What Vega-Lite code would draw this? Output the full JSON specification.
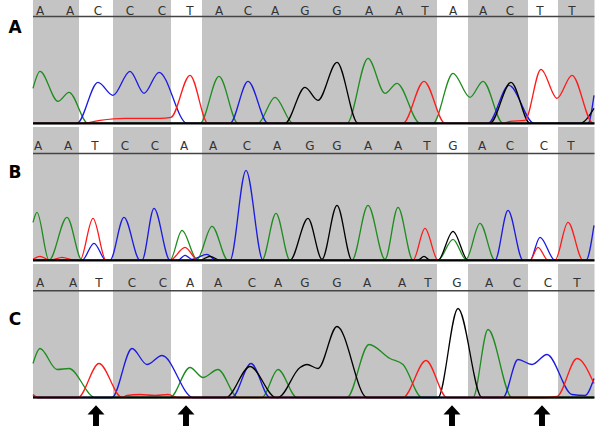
{
"$schema":"https://vega.github.io/schema/vega-lite/v6.json",
"padding":0,"spacing":0,"background":"white",
"config":{"view":{"stroke":null},"concat":{"spacing":0}},
"datasets":{
"bands":[{"start":33,"end":79},{"start":113,"end":171},{"start":202,"end":437},{"start":468,"end":528},{"start":558,"end":594.5}],
"letters":[
{"panel":"A","scan":40,"base":"A"},{"panel":"A","scan":70,"base":"A"},{"panel":"A","scan":98,"base":"C"},{"panel":"A","scan":130,"base":"C"},{"panel":"A","scan":162,"base":"C"},{"panel":"A","scan":190,"base":"T"},{"panel":"A","scan":219,"base":"A"},{"panel":"A","scan":248,"base":"C"},{"panel":"A","scan":275,"base":"A"},{"panel":"A","scan":305,"base":"G"},{"panel":"A","scan":337,"base":"G"},{"panel":"A","scan":369,"base":"A"},{"panel":"A","scan":399,"base":"A"},{"panel":"A","scan":425,"base":"T"},{"panel":"A","scan":453,"base":"A"},{"panel":"A","scan":483,"base":"A"},{"panel":"A","scan":510,"base":"C"},{"panel":"A","scan":540,"base":"T"},{"panel":"A","scan":572,"base":"T"},
{"panel":"B","scan":38,"base":"A"},{"panel":"B","scan":68,"base":"A"},{"panel":"B","scan":95,"base":"T"},{"panel":"B","scan":125,"base":"C"},{"panel":"B","scan":155,"base":"C"},{"panel":"B","scan":184,"base":"A"},{"panel":"B","scan":213,"base":"A"},{"panel":"B","scan":247,"base":"C"},{"panel":"B","scan":277,"base":"A"},{"panel":"B","scan":310,"base":"G"},{"panel":"B","scan":337,"base":"G"},{"panel":"B","scan":368,"base":"A"},{"panel":"B","scan":398,"base":"A"},{"panel":"B","scan":427,"base":"T"},{"panel":"B","scan":453,"base":"G"},{"panel":"B","scan":482,"base":"A"},{"panel":"B","scan":510,"base":"C"},{"panel":"B","scan":544,"base":"C"},{"panel":"B","scan":571,"base":"T"},
{"panel":"C","scan":40,"base":"A"},{"panel":"C","scan":73,"base":"A"},{"panel":"C","scan":99,"base":"T"},{"panel":"C","scan":132,"base":"C"},{"panel":"C","scan":163,"base":"C"},{"panel":"C","scan":190,"base":"A"},{"panel":"C","scan":218,"base":"A"},{"panel":"C","scan":252,"base":"C"},{"panel":"C","scan":278,"base":"A"},{"panel":"C","scan":305,"base":"G"},{"panel":"C","scan":337,"base":"G"},{"panel":"C","scan":367,"base":"A"},{"panel":"C","scan":402,"base":"A"},{"panel":"C","scan":428,"base":"T"},{"panel":"C","scan":457,"base":"G"},{"panel":"C","scan":489,"base":"A"},{"panel":"C","scan":517,"base":"C"},{"panel":"C","scan":548,"base":"C"},{"panel":"C","scan":577,"base":"T"}
],
"arrows":[{"scan":96},{"scan":186},{"scan":452},{"scan":542}],
"traces":[
{"panel":"A","dye":"A","scan":33,"signal":35},{"panel":"A","dye":"A","scan":40,"signal":52},{"panel":"A","dye":"A","scan":58,"signal":22},{"panel":"A","dye":"A","scan":69,"signal":31},{"panel":"A","dye":"A","scan":88,"signal":0},{"panel":"A","dye":"A","scan":200,"signal":0},{"panel":"A","dye":"A","scan":219,"signal":47},{"panel":"A","dye":"A","scan":238,"signal":0},{"panel":"A","dye":"A","scan":258,"signal":0},{"panel":"A","dye":"A","scan":275,"signal":26},{"panel":"A","dye":"A","scan":293,"signal":0},{"panel":"A","dye":"A","scan":347,"signal":0},{"panel":"A","dye":"A","scan":368,"signal":65},{"panel":"A","dye":"A","scan":385,"signal":30},{"panel":"A","dye":"A","scan":397,"signal":40},{"panel":"A","dye":"A","scan":420,"signal":0},{"panel":"A","dye":"A","scan":433,"signal":0},{"panel":"A","dye":"A","scan":453,"signal":50},{"panel":"A","dye":"A","scan":470,"signal":26},{"panel":"A","dye":"A","scan":483,"signal":42},{"panel":"A","dye":"A","scan":503,"signal":0},{"panel":"A","dye":"A","scan":594,"signal":0},
{"panel":"A","dye":"C","scan":33,"signal":0},{"panel":"A","dye":"C","scan":77,"signal":0},{"panel":"A","dye":"C","scan":98,"signal":41},{"panel":"A","dye":"C","scan":113,"signal":28},{"panel":"A","dye":"C","scan":130,"signal":52},{"panel":"A","dye":"C","scan":144,"signal":30},{"panel":"A","dye":"C","scan":159,"signal":51},{"panel":"A","dye":"C","scan":187,"signal":0},{"panel":"A","dye":"C","scan":230,"signal":0},{"panel":"A","dye":"C","scan":248,"signal":42},{"panel":"A","dye":"C","scan":268,"signal":0},{"panel":"A","dye":"C","scan":488,"signal":0},{"panel":"A","dye":"C","scan":509,"signal":38},{"panel":"A","dye":"C","scan":534,"signal":0},{"panel":"A","dye":"C","scan":588,"signal":0},{"panel":"A","dye":"C","scan":594,"signal":28},
{"panel":"A","dye":"G","scan":33,"signal":0},{"panel":"A","dye":"G","scan":285,"signal":0},{"panel":"A","dye":"G","scan":305,"signal":36},{"panel":"A","dye":"G","scan":318,"signal":23},{"panel":"A","dye":"G","scan":337,"signal":61},{"panel":"A","dye":"G","scan":358,"signal":0},{"panel":"A","dye":"G","scan":490,"signal":0},{"panel":"A","dye":"G","scan":511,"signal":41},{"panel":"A","dye":"G","scan":530,"signal":0},{"panel":"A","dye":"G","scan":580,"signal":0},{"panel":"A","dye":"G","scan":594,"signal":15},
{"panel":"A","dye":"T","scan":33,"signal":0},{"panel":"A","dye":"T","scan":83,"signal":0},{"panel":"A","dye":"T","scan":100,"signal":3},{"panel":"A","dye":"T","scan":125,"signal":5},{"panel":"A","dye":"T","scan":160,"signal":5},{"panel":"A","dye":"T","scan":171,"signal":6},{"panel":"A","dye":"T","scan":190,"signal":48},{"panel":"A","dye":"T","scan":208,"signal":0},{"panel":"A","dye":"T","scan":403,"signal":0},{"panel":"A","dye":"T","scan":424,"signal":42},{"panel":"A","dye":"T","scan":445,"signal":0},{"panel":"A","dye":"T","scan":503,"signal":0},{"panel":"A","dye":"T","scan":510,"signal":2},{"panel":"A","dye":"T","scan":525,"signal":3},{"panel":"A","dye":"T","scan":541,"signal":54},{"panel":"A","dye":"T","scan":557,"signal":25},{"panel":"A","dye":"T","scan":572,"signal":48},{"panel":"A","dye":"T","scan":593,"signal":0},{"panel":"A","dye":"T","scan":594,"signal":0},
{"panel":"B","dye":"A","scan":33,"signal":38},{"panel":"B","dye":"A","scan":37,"signal":48},{"panel":"B","dye":"A","scan":49,"signal":0},{"panel":"B","dye":"A","scan":67,"signal":43},{"panel":"B","dye":"A","scan":82,"signal":0},{"panel":"B","dye":"A","scan":170,"signal":0},{"panel":"B","dye":"A","scan":182,"signal":30},{"panel":"B","dye":"A","scan":197,"signal":1},{"panel":"B","dye":"A","scan":212,"signal":34},{"panel":"B","dye":"A","scan":228,"signal":0},{"panel":"B","dye":"A","scan":262,"signal":0},{"panel":"B","dye":"A","scan":276,"signal":47},{"panel":"B","dye":"A","scan":290,"signal":0},{"panel":"B","dye":"A","scan":352,"signal":0},{"panel":"B","dye":"A","scan":368,"signal":55},{"panel":"B","dye":"A","scan":385,"signal":1},{"panel":"B","dye":"A","scan":398,"signal":53},{"panel":"B","dye":"A","scan":413,"signal":0},{"panel":"B","dye":"A","scan":438,"signal":0},{"panel":"B","dye":"A","scan":453,"signal":21},{"panel":"B","dye":"A","scan":466,"signal":1},{"panel":"B","dye":"A","scan":480,"signal":37},{"panel":"B","dye":"A","scan":495,"signal":0},{"panel":"B","dye":"A","scan":594,"signal":0},
{"panel":"B","dye":"C","scan":33,"signal":0},{"panel":"B","dye":"C","scan":82,"signal":0},{"panel":"B","dye":"C","scan":94,"signal":17},{"panel":"B","dye":"C","scan":106,"signal":0},{"panel":"B","dye":"C","scan":110,"signal":0},{"panel":"B","dye":"C","scan":124,"signal":43},{"panel":"B","dye":"C","scan":140,"signal":0},{"panel":"B","dye":"C","scan":142,"signal":0},{"panel":"B","dye":"C","scan":154,"signal":52},{"panel":"B","dye":"C","scan":170,"signal":0},{"panel":"B","dye":"C","scan":178,"signal":0},{"panel":"B","dye":"C","scan":185,"signal":5},{"panel":"B","dye":"C","scan":192,"signal":1},{"panel":"B","dye":"C","scan":207,"signal":6},{"panel":"B","dye":"C","scan":216,"signal":0},{"panel":"B","dye":"C","scan":230,"signal":0},{"panel":"B","dye":"C","scan":246,"signal":90},{"panel":"B","dye":"C","scan":263,"signal":0},{"panel":"B","dye":"C","scan":495,"signal":0},{"panel":"B","dye":"C","scan":508,"signal":50},{"panel":"B","dye":"C","scan":523,"signal":0},{"panel":"B","dye":"C","scan":530,"signal":0},{"panel":"B","dye":"C","scan":540,"signal":23},{"panel":"B","dye":"C","scan":555,"signal":0},{"panel":"B","dye":"C","scan":586,"signal":0},{"panel":"B","dye":"C","scan":594,"signal":35},
{"panel":"B","dye":"G","scan":33,"signal":0},{"panel":"B","dye":"G","scan":200,"signal":0},{"panel":"B","dye":"G","scan":210,"signal":4},{"panel":"B","dye":"G","scan":220,"signal":0},{"panel":"B","dye":"G","scan":290,"signal":0},{"panel":"B","dye":"G","scan":308,"signal":42},{"panel":"B","dye":"G","scan":322,"signal":1},{"panel":"B","dye":"G","scan":337,"signal":55},{"panel":"B","dye":"G","scan":352,"signal":0},{"panel":"B","dye":"G","scan":418,"signal":0},{"panel":"B","dye":"G","scan":424,"signal":4},{"panel":"B","dye":"G","scan":430,"signal":0},{"panel":"B","dye":"G","scan":438,"signal":0},{"panel":"B","dye":"G","scan":453,"signal":29},{"panel":"B","dye":"G","scan":468,"signal":0},{"panel":"B","dye":"G","scan":594,"signal":0},
{"panel":"B","dye":"T","scan":33,"signal":1},{"panel":"B","dye":"T","scan":40,"signal":4},{"panel":"B","dye":"T","scan":50,"signal":0},{"panel":"B","dye":"T","scan":62,"signal":3},{"panel":"B","dye":"T","scan":75,"signal":0},{"panel":"B","dye":"T","scan":80,"signal":0},{"panel":"B","dye":"T","scan":93,"signal":42},{"panel":"B","dye":"T","scan":106,"signal":0},{"panel":"B","dye":"T","scan":170,"signal":0},{"panel":"B","dye":"T","scan":185,"signal":13},{"panel":"B","dye":"T","scan":198,"signal":0},{"panel":"B","dye":"T","scan":413,"signal":0},{"panel":"B","dye":"T","scan":425,"signal":32},{"panel":"B","dye":"T","scan":438,"signal":0},{"panel":"B","dye":"T","scan":530,"signal":0},{"panel":"B","dye":"T","scan":538,"signal":13},{"panel":"B","dye":"T","scan":548,"signal":0},{"panel":"B","dye":"T","scan":555,"signal":0},{"panel":"B","dye":"T","scan":568,"signal":38},{"panel":"B","dye":"T","scan":583,"signal":0},{"panel":"B","dye":"T","scan":594,"signal":0},
{"panel":"C","dye":"A","scan":33,"signal":34},{"panel":"C","dye":"A","scan":40,"signal":49},{"panel":"C","dye":"A","scan":57,"signal":28},{"panel":"C","dye":"A","scan":69,"signal":29},{"panel":"C","dye":"A","scan":95,"signal":0},{"panel":"C","dye":"A","scan":170,"signal":0},{"panel":"C","dye":"A","scan":190,"signal":30},{"panel":"C","dye":"A","scan":203,"signal":20},{"panel":"C","dye":"A","scan":218,"signal":28},{"panel":"C","dye":"A","scan":238,"signal":0},{"panel":"C","dye":"A","scan":262,"signal":0},{"panel":"C","dye":"A","scan":278,"signal":28},{"panel":"C","dye":"A","scan":297,"signal":0},{"panel":"C","dye":"A","scan":347,"signal":0},{"panel":"C","dye":"A","scan":369,"signal":53},{"panel":"C","dye":"A","scan":390,"signal":39},{"panel":"C","dye":"A","scan":403,"signal":33},{"panel":"C","dye":"A","scan":422,"signal":0},{"panel":"C","dye":"A","scan":473,"signal":0},{"panel":"C","dye":"A","scan":488,"signal":68},{"panel":"C","dye":"A","scan":512,"signal":0},{"panel":"C","dye":"A","scan":594,"signal":0},
{"panel":"C","dye":"C","scan":33,"signal":2},{"panel":"C","dye":"C","scan":37,"signal":0},{"panel":"C","dye":"C","scan":112,"signal":0},{"panel":"C","dye":"C","scan":132,"signal":49},{"panel":"C","dye":"C","scan":147,"signal":33},{"panel":"C","dye":"C","scan":162,"signal":42},{"panel":"C","dye":"C","scan":193,"signal":0},{"panel":"C","dye":"C","scan":232,"signal":0},{"panel":"C","dye":"C","scan":251,"signal":34},{"panel":"C","dye":"C","scan":270,"signal":0},{"panel":"C","dye":"C","scan":503,"signal":0},{"panel":"C","dye":"C","scan":518,"signal":38},{"panel":"C","dye":"C","scan":532,"signal":33},{"panel":"C","dye":"C","scan":547,"signal":43},{"panel":"C","dye":"C","scan":572,"signal":3},{"panel":"C","dye":"C","scan":585,"signal":2},{"panel":"C","dye":"C","scan":594,"signal":19},
{"panel":"C","dye":"G","scan":33,"signal":0},{"panel":"C","dye":"G","scan":226,"signal":0},{"panel":"C","dye":"G","scan":250,"signal":31},{"panel":"C","dye":"G","scan":276,"signal":0},{"panel":"C","dye":"G","scan":278,"signal":0},{"panel":"C","dye":"G","scan":300,"signal":30},{"panel":"C","dye":"G","scan":307,"signal":33},{"panel":"C","dye":"G","scan":318,"signal":29},{"panel":"C","dye":"G","scan":337,"signal":71},{"panel":"C","dye":"G","scan":367,"signal":0},{"panel":"C","dye":"G","scan":438,"signal":0},{"panel":"C","dye":"G","scan":458,"signal":89},{"panel":"C","dye":"G","scan":482,"signal":0},{"panel":"C","dye":"G","scan":594,"signal":0},
{"panel":"C","dye":"T","scan":33,"signal":3},{"panel":"C","dye":"T","scan":38,"signal":0},{"panel":"C","dye":"T","scan":78,"signal":0},{"panel":"C","dye":"T","scan":99,"signal":34},{"panel":"C","dye":"T","scan":122,"signal":0},{"panel":"C","dye":"T","scan":127,"signal":2},{"panel":"C","dye":"T","scan":140,"signal":3},{"panel":"C","dye":"T","scan":155,"signal":2},{"panel":"C","dye":"T","scan":168,"signal":3},{"panel":"C","dye":"T","scan":178,"signal":0},{"panel":"C","dye":"T","scan":403,"signal":0},{"panel":"C","dye":"T","scan":426,"signal":37},{"panel":"C","dye":"T","scan":447,"signal":0},{"panel":"C","dye":"T","scan":545,"signal":0},{"panel":"C","dye":"T","scan":557,"signal":1},{"panel":"C","dye":"T","scan":577,"signal":39},{"panel":"C","dye":"T","scan":594,"signal":14}
]
},
"vconcat":[
{"width":600,"height":125,
"layer":[
{"data":{"name":"bands"},"mark":{"type":"rect","color":"#c4c4c4"},
"encoding":{"x":{"field":"start","type":"quantitative","scale":{"domain":[0,600],"nice":false,"zero":false},"axis":null},"x2":{"field":"end"},
"y":{"datum":123.3,"type":"quantitative","scale":{"domain":[-1.7,123.3],"nice":false,"zero":false},"axis":null},"y2":{"datum":-1.2}}},
{"data":{"name":"letters"},"transform":[{"filter":"datum.panel==='A'"}],"mark":{"type":"text","font":"DejaVu Sans","fontSize":12,"color":"#333333","baseline":"alphabetic","align":"center"},
"encoding":{"x":{"field":"scan","type":"quantitative"},"y":{"datum":108.3},"text":{"field":"base"}}},
{"data":{"values":[{}]},"mark":{"type":"rule","color":"#444444","strokeWidth":1.5},"encoding":{"x":{"datum":33},"x2":{"datum":594.5},"y":{"datum":106.8}}},
{"data":{"name":"traces"},"transform":[{"filter":"datum.panel==='A'"}],"mark":{"type":"line","interpolate":"monotone","strokeWidth":1.3},
"encoding":{"x":{"field":"scan","type":"quantitative"},"y":{"field":"signal","type":"quantitative"},"color":{"field":"dye","type":"nominal","scale":{"domain":["A","C","G","T"],"range":["#1e8c1e","#1a1ae0","#000000","#ff1a1a"]},"legend":null}}},
{"data":{"values":[{}]},"mark":{"type":"rule","color":"#000000","strokeWidth":2.2},"encoding":{"x":{"datum":33},"x2":{"datum":594.5},"y":{"datum":0}}},
{"data":{"values":[{"label":"A"}]},"mark":{"type":"text","font":"DejaVu Sans","fontWeight":"bold","fontSize":17,"align":"center","baseline":"alphabetic","color":"#000000"},"encoding":{"x":{"datum":15},"y":{"datum":90.3},"text":{"field":"label"}}}
]},
{"width":600,"height":135,
"layer":[
{"data":{"name":"bands"},"mark":{"type":"rect","color":"#c4c4c4"},
"encoding":{"x":{"field":"start","type":"quantitative","scale":{"domain":[0,600],"nice":false,"zero":false},"axis":null},"x2":{"field":"end"},
"y":{"datum":133.3,"type":"quantitative","scale":{"domain":[-0.7,134.3],"nice":false,"zero":false},"axis":null},"y2":{"datum":-0.7}}},
{"data":{"name":"letters"},"transform":[{"filter":"datum.panel==='B'"}],"mark":{"type":"text","font":"DejaVu Sans","fontSize":12,"color":"#333333","baseline":"alphabetic","align":"center"},
"encoding":{"x":{"field":"scan","type":"quantitative"},"y":{"datum":110.3},"text":{"field":"base"}}},
{"data":{"values":[{}]},"mark":{"type":"rule","color":"#444444","strokeWidth":1.5},"encoding":{"x":{"datum":33},"x2":{"datum":594.5},"y":{"datum":106.8}}},
{"data":{"name":"traces"},"transform":[{"filter":"datum.panel==='B'"}],"mark":{"type":"line","interpolate":"monotone","strokeWidth":1.3},
"encoding":{"x":{"field":"scan","type":"quantitative"},"y":{"field":"signal","type":"quantitative"},"color":{"field":"dye","type":"nominal","scale":{"domain":["A","C","G","T"],"range":["#1e8c1e","#1a1ae0","#000000","#ff1a1a"]},"legend":null}}},
{"data":{"values":[{}]},"mark":{"type":"rule","color":"#000000","strokeWidth":2.2},"encoding":{"x":{"datum":33},"x2":{"datum":594.5},"y":{"datum":0}}},
{"data":{"values":[{"label":"B"}]},"mark":{"type":"text","font":"DejaVu Sans","fontWeight":"bold","fontSize":17,"align":"center","baseline":"alphabetic","color":"#000000"},"encoding":{"x":{"datum":15},"y":{"datum":82.3},"text":{"field":"label"}}}
]},
{"width":600,"height":168,
"layer":[
{"data":{"name":"bands"},"mark":{"type":"rect","color":"#c4c4c4"},
"encoding":{"x":{"field":"start","type":"quantitative","scale":{"domain":[0,600],"nice":false,"zero":false},"axis":null},"x2":{"field":"end"},
"y":{"datum":133.5,"type":"quantitative","scale":{"domain":[-33.5,134.5],"nice":false,"zero":false},"axis":null},"y2":{"datum":-0.5}}},
{"data":{"name":"letters"},"transform":[{"filter":"datum.panel==='C'"}],"mark":{"type":"text","font":"DejaVu Sans","fontSize":12,"color":"#333333","baseline":"alphabetic","align":"center"},
"encoding":{"x":{"field":"scan","type":"quantitative"},"y":{"datum":110.5},"text":{"field":"base"}}},
{"data":{"values":[{}]},"mark":{"type":"rule","color":"#444444","strokeWidth":1.5},"encoding":{"x":{"datum":33},"x2":{"datum":594.5},"y":{"datum":106.8}}},
{"data":{"name":"traces"},"transform":[{"filter":"datum.panel==='C'"}],"mark":{"type":"line","interpolate":"monotone","strokeWidth":1.3},
"encoding":{"x":{"field":"scan","type":"quantitative"},"y":{"field":"signal","type":"quantitative"},"color":{"field":"dye","type":"nominal","scale":{"domain":["A","C","G","T"],"range":["#1e8c1e","#1a1ae0","#000000","#ff1a1a"]},"legend":null}}},
{"data":{"values":[{}]},"mark":{"type":"rule","color":"#000000","strokeWidth":2.2},"encoding":{"x":{"datum":33},"x2":{"datum":594.5},"y":{"datum":0}}},
{"data":{"values":[{"label":"C"}]},"mark":{"type":"text","font":"DejaVu Sans","fontWeight":"bold","fontSize":17,"align":"center","baseline":"alphabetic","color":"#000000"},"encoding":{"x":{"datum":15},"y":{"datum":72.5},"text":{"field":"label"}}},
{"data":{"name":"arrows"},"mark":{"type":"point","filled":true,"color":"#000000","opacity":1,"strokeWidth":0,"size":289,"shape":"M0,-1.1L1,0L0.35,0L0.35,1.35L-0.35,1.35L-0.35,0L-1,0Z"},
"encoding":{"x":{"field":"scan","type":"quantitative"},"y":{"datum":-17}}}
]}
]
}
